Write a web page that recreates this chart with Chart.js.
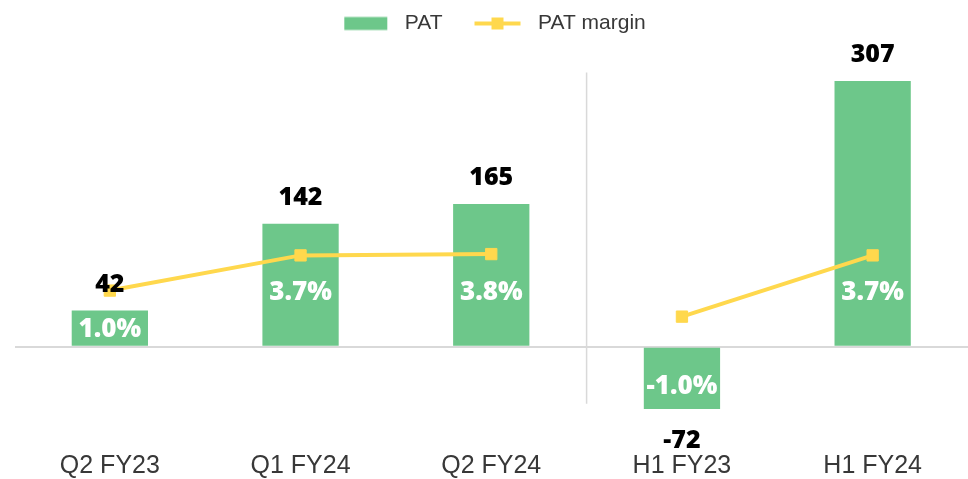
<!DOCTYPE html>
<html><head><meta charset="utf-8">
<script src="https://cdn.jsdelivr.net/npm/chart.js@4/dist/chart.umd.min.js"></script>
<style>html,body{margin:0;padding:0;background:#fff}#wrap{width:968px;height:479px;position:relative}</style>
</head><body><div id="wrap"><canvas id="c" width="968" height="479"></canvas></div>
<script>
// ---- data ----
const categories = ['Q2 FY23', 'Q1 FY24', 'Q2 FY24', 'H1 FY23', 'H1 FY24'];
const patValues = [42, 142, 165, -72, 307];
const patMarginValues = [1.0, 3.7, 3.8, -1.0, 3.7];
const seriesNames = ['PAT', 'PAT margin'];
const lineBreakAfter = 2; // margin line is not drawn between Q2 FY24 and H1 FY23

// ---- styles ----
const GREEN = '#6DC78A', YELLOW = '#FFD84D', TEXT = '#383838', GRID = '#D9D9D9';
const SANS = '"Liberation Sans", Arial, sans-serif';
const BOLD = '"Open Sans", "Noto Sans", sans-serif';

function legendIcon(kind) {
  const W = 72, H = 16;
  const c = document.createElement('canvas'); c.width = W; c.height = H;
  const g = c.getContext('2d');
  if (kind === 'bar') {
    g.fillStyle = GREEN; g.fillRect(W - 7 - 43, (H - 13) / 2, 43, 13);
  } else {
    g.strokeStyle = YELLOW; g.lineWidth = 4;
    g.beginPath(); g.moveTo(W - 7 - 46, H / 2); g.lineTo(W - 7, H / 2); g.stroke();
    g.fillStyle = YELLOW; g.fillRect(W - 7 - 23 - 6, H / 2 - 6, 12, 12);
  }
  return c;
}
const icons = [legendIcon('bar'), legendIcon('line')];

const overlay = {
  id: 'overlay',
  beforeDatasetsDraw(chart) {
    const ctx = chart.ctx, xs = chart.scales.x, ys = chart.scales.y;
    const x = (xs.getPixelForValue(2) + xs.getPixelForValue(3)) / 2;
    ctx.save();
    ctx.strokeStyle = GRID; ctx.lineWidth = 1.5;
    ctx.beginPath();
    ctx.moveTo(x, ys.getPixelForValue(317));
    ctx.lineTo(x, ys.getPixelForValue(-66));
    ctx.stroke();
    ctx.restore();
  },
  afterDatasetsDraw(chart) {
    const ctx = chart.ctx;
    const bars = chart.getDatasetMeta(0).data;
    ctx.save();
    ctx.textAlign = 'center'; ctx.textBaseline = 'middle';
    bars.forEach((b, i) => {
      const v = patValues[i];
      const pos = v >= 0;
      const mid = (b.y + b.base) / 2;
      const py = (pos ? Math.max(mid, b.base - 55) : mid + 6) + 2;
      ctx.fillStyle = '#FFFFFF';
      ctx.font = '800 26px ' + BOLD;
      ctx.fillText(patMarginValues[i].toFixed(1) + '%', b.x, py);
      ctx.fillStyle = '#000000';
      ctx.font = '800 25px ' + BOLD;
      ctx.fillText(String(v), b.x, pos ? b.y - 26 : b.y + 32);
    });
    ctx.restore();
  }
};

new Chart(document.getElementById('c'), {
  data: {
    labels: categories,
    datasets: [
      { type: 'bar', label: seriesNames[0], data: patValues, backgroundColor: GREEN,
        yAxisID: 'y', barPercentage: 0.4, categoryPercentage: 1.0, order: 1 },
      { type: 'line', label: seriesNames[1], data: patMarginValues, yAxisID: 'y1',
        borderColor: YELLOW, borderWidth: 4, tension: 0,
        segment: { borderColor: c => c.p0DataIndex === lineBreakAfter ? 'rgba(0,0,0,0)' : YELLOW },
        pointStyle: 'rect', pointRadius: 8, pointBackgroundColor: YELLOW,
        pointBorderColor: YELLOW, pointBorderWidth: 1, order: 0 }
    ]
  },
  options: {
    responsive: false, animation: false, devicePixelRatio: 1,
    layout: { padding: 0, autoPadding: false },
    plugins: {
      tooltip: { enabled: false },
      legend: {
        position: 'top',
        labels: {
          usePointStyle: true, pointStyleWidth: 72, boxHeight: 16, padding: 13,
          color: TEXT, font: { family: SANS, size: 21 },
          generateLabels() {
            return seriesNames.map((n, i) => ({ text: n, pointStyle: icons[i],
              fillStyle: 'transparent', strokeStyle: 'transparent', lineWidth: 0,
              datasetIndex: i, hidden: false, fontColor: TEXT }));
          }
        }
      }
    },
    scales: {
      x: { grid: { display: false, drawTicks: false }, border: { display: false },
        ticks: { color: TEXT, font: { family: SANS, size: 25, lineHeight: 1.0 }, padding: 0, maxRotation: 0, autoSkip: false } },
      y: { min: -124.0, max: 349.9,
        ticks: { display: false }, border: { display: false },
        grid: { drawTicks: false, color: GRID, lineWidth: 2 },
        afterBuildTicks(s) { s.ticks = [{ value: 0 }]; },
        afterFit(s) { s.width = 14.5; } },
      y1: { display: false, min: -11.54, max: 19.92 }
    }
  },
  plugins: [overlay]
});
</script></body></html>
